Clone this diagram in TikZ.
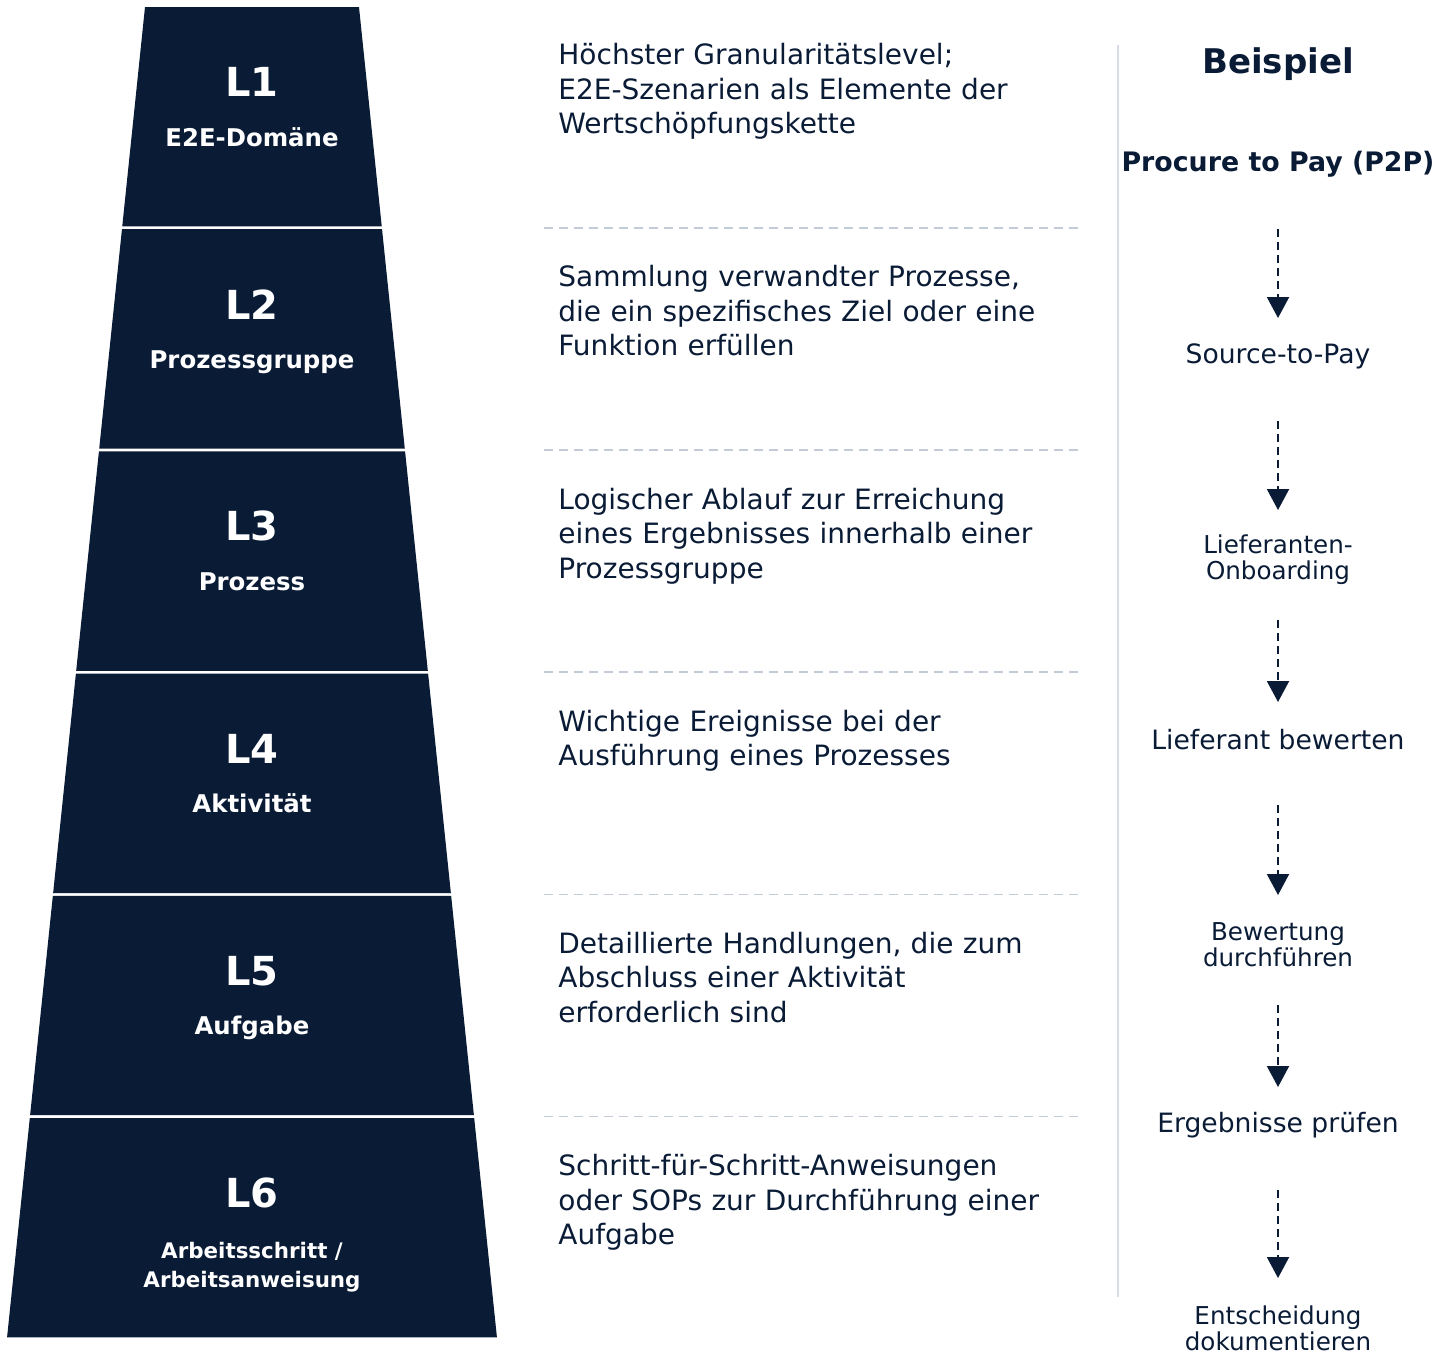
\documentclass[tikz,border=0pt]{standalone}
\usepackage{fontspec}
\setmainfont{DejaVu Sans}
\usetikzlibrary{arrows.meta, calc, positioning}
\usepackage{xcolor}

\definecolor{navy}{HTML}{0A1B36}
\definecolor{rulegray}{HTML}{C3CBD8}
\definecolor{sepgray}{HTML}{D6DDE7}

\tikzset{
  band/.style={fill=navy, draw=none},
  lvlnum/.style={text=white, font=\bfseries\fontsize{20}{24}\selectfont, inner sep=0},
  lvlname/.style={text=white, font=\bfseries\fontsize{12.2}{14.5}\selectfont, align=center, inner sep=0},
  desc/.style={text=navy, font=\fontsize{14}{17.25}\selectfont, anchor=north west,
    text width=290pt, align=left, inner sep=0},
  exone/.style={text=navy, font=\fontsize{13.3}{15}\selectfont, minimum height=38pt, inner sep=0, outer sep=0},
  extwo/.style={text=navy, font=\fontsize{12.3}{13}\selectfont, align=center, minimum height=50pt,
    inner sep=0, outer sep=0},
  flow/.style={navy, line width=1pt, dash pattern=on 4pt off 2.5pt,
    -{Triangle[width=11pt,length=10.5pt]}, shorten <=13.5pt},
  divider/.style={rulegray, line width=0.8pt, dash pattern=on 4.5pt off 3pt},
}

\begin{document}
\begin{tikzpicture}[x=0.5pt, y=-0.5pt]
  \useasboundingbox (0,0) rectangle (1449,1351);
  % pyramid bands, half width grows with y
  \foreach \k in {0,...,5}{
    \pgfmathsetmacro{\yt}{7+222.2*\k}
    \pgfmathsetmacro{\yb}{\yt+219.4}
    \pgfmathsetmacro{\wt}{107+0.10368*(\yt-7)}
    \pgfmathsetmacro{\wb}{107+0.10368*(\yb-7)}
    \fill[band] (252-\wt,\yt) -- (252+\wt,\yt) -- (252+\wb,\yb) -- (252-\wb,\yb) -- cycle;
  }
  % dashed rules between the levels
  \foreach \k in {1,...,5}
    \draw[divider] (544,{5.5+222.2*\k}) -- (1080,{5.5+222.2*\k});
  % level numbers and names
  \foreach \k in {1,...,6}
    \node[lvlnum] (lvl\k) at (252,{82+222.2*(\k-1)}) {L\k};
  \foreach \k/\name in {1/E2E-Domäne, 2/Prozessgruppe, 3/Prozess, 4/Aktivität, 5/Aufgabe}
    \node[lvlname, anchor=base] (name\k) at (252,{146+222.2*(\k-1)}) {\name};
  \node[lvlname, font=\bfseries\fontsize{10.7}{14.5}\selectfont] (name6) at (252,1267.5)
    {Arbeitsschritt /\\Arbeitsanweisung};
  % descriptions
  \node[desc] (desc1) at (558,43) {Höchster Granularitätslevel;\\E2E-Szenarien als Elemente der\\Wertschöpfungskette};
  \node[desc] (desc2) at (558,265.2) {Sammlung verwandter Prozesse,\\die ein spezifisches Ziel oder eine\\Funktion erfüllen};
  \node[desc] (desc3) at (558,487.4) {Logischer Ablauf zur Erreichung\\eines Ergebnisses innerhalb einer\\Prozessgruppe};
  \node[desc] (desc4) at (558,709.6) {Wichtige Ereignisse bei der\\Ausführung eines Prozesses};
  \node[desc] (desc5) at (558,931.8) {Detaillierte Handlungen, die zum\\Abschluss einer Aktivität\\erforderlich sind};
  \node[desc] (desc6) at (558,1154) {Schritt-für-Schritt-Anweisungen\\oder SOPs zur Durchführung einer\\Aufgabe};
  % example column
  \draw[sepgray, line width=1pt] (1118,45) -- (1118,1297);
  \node[text=navy, font=\bfseries\fontsize{17}{20}\selectfont] (beispiel) at (1278,64) {Beispiel};
  \node[exone, font=\bfseries\fontsize{13.4}{15}\selectfont] (p2p) at (1278,164) {Procure to Pay (P2P)};
  \node[exone] (s2p) at (1278,356) {Source-to-Pay};
  \node[extwo] (onboard) at (1278,560) {Lieferanten-\\Onboarding};
  \node[exone] (rate) at (1278,740) {Lieferant bewerten};
  \node[extwo] (assess) at (1278,945) {Bewertung\\durchführen};
  \node[exone] (check) at (1278,1125) {Ergebnisse prüfen};
  \node[extwo] (decide) at (1278,1328) {Entscheidung\\dokumentieren};
  \draw[flow] (p2p) -- (s2p);
  \draw[flow] (s2p) -- (onboard);
  \draw[flow, shorten <=5pt] (onboard) -- (rate);
  \draw[flow] (rate) -- (assess);
  \draw[flow, shorten <=5pt] (assess) -- (check);
  \draw[flow] (check) -- (decide);
\end{tikzpicture}
\end{document}
